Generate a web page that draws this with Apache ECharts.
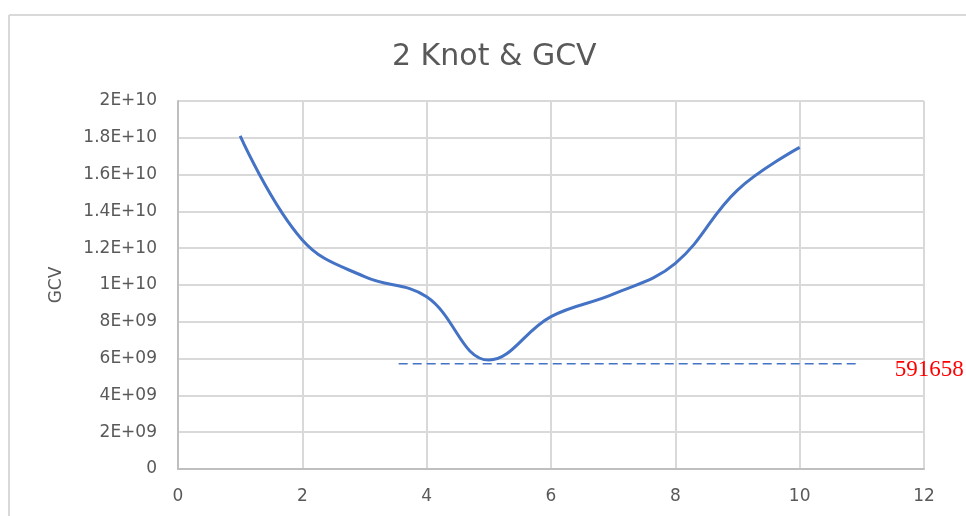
<!DOCTYPE html>
<html>
<head>
<meta charset="utf-8">
<script src="https://cdn.jsdelivr.net/npm/echarts@6/dist/echarts.min.js"></script>
<style>
  html, body { margin: 0; padding: 0; background: #fff; }
  #chart { width: 966px; height: 516px; }
</style>
</head>
<body>
<div id="chart"></div>
<script>
// knots vs GCV
const knots = [1, 2, 3, 4, 5, 6, 7, 8, 9, 10];
const gcv = [1.81e10, 1.245e10, 1.045e10, 9.36e9, 5.92e9, 8.28e9, 9.5e9, 1.118e10, 1.516e10, 1.748e10];

// reference dashed line
const refX = [3.55, 10.95];
const refY = 5.72e9;
const refLabel = '591658';

const yTickLabels = ['0', '2E+09', '4E+09', '6E+09', '8E+09', '1E+10', '1.2E+10', '1.4E+10', '1.6E+10', '1.8E+10', '2E+10'];

const font = 'DejaVu Sans';

const chart = echarts.init(document.getElementById('chart'));
const option = {
  animation: false,
  title: {
    text: '2 Knot & GCV',
    left: 387,
    top: 37,
    textStyle: {
      color: '#595959',
      fontSize: 30,
      fontWeight: 'normal',
      fontFamily: font
    }
  },
  grid: {
    left: 178,
    right: 42,
    top: 101,
    bottom: 47
  },
  xAxis: {
    type: 'value',
    min: 0,
    max: 12,
    interval: 2,
    axisLine: { show: true, lineStyle: { color: '#bfbfbf', width: 2 } },
    axisTick: { show: false },
    axisLabel: { color: '#595959', fontSize: 17, fontFamily: font, margin: 19 },
    splitLine: { show: true, lineStyle: { color: '#d9d9d9', width: 2 } }
  },
  yAxis: {
    type: 'value',
    min: 0,
    max: 2e10,
    interval: 2e9,
    name: 'GCV',
    nameLocation: 'middle',
    nameGap: 113,
    nameTextStyle: { color: '#595959', fontSize: 17, fontFamily: font },
    axisLine: { show: true, lineStyle: { color: '#bfbfbf', width: 2 } },
    axisTick: { show: false },
    axisLabel: {
      color: '#595959',
      fontSize: 17,
      fontFamily: font,
      margin: 21,
      formatter: function (v) {
        return yTickLabels[Math.round(v / 2e9)];
      }
    },
    splitLine: { show: true, lineStyle: { color: '#d9d9d9', width: 2 } }
  },
  series: [
    {
      name: 'GCV',
      type: 'line',
      data: knots.map((k, i) => [k, gcv[i]]),
      smooth: 0.4,
      showSymbol: false,
      lineStyle: { color: '#4472c4', width: 3 }
    },
    {
      name: 'ref',
      type: 'line',
      data: refX.map(x => [x, refY]),
      showSymbol: false,
      lineStyle: { color: '#4472c4', width: 1.5, type: [9, 5] }
    }
  ]
};
chart.setOption(option);

// frame + red label next to the end of the dashed line
const end = chart.convertToPixel({ gridIndex: 0 }, [refX[1], refY]);
chart.setOption({
  graphic: [
    { type: 'line', shape: { x1: 9, y1: 15, x2: 966, y2: 15 }, style: { stroke: '#d9d9d9', lineWidth: 2 } },
    { type: 'line', shape: { x1: 9, y1: 15, x2: 9, y2: 516 }, style: { stroke: '#d9d9d9', lineWidth: 2 } },
    {
      type: 'text',
      x: end[0] + 36,
      y: end[1] + 6,
      style: {
        text: refLabel,
        fill: '#ff0000',
        font: '23px "Liberation Serif"',
        textVerticalAlign: 'middle'
      }
    }
  ]
});
</script>
</body>
</html>
